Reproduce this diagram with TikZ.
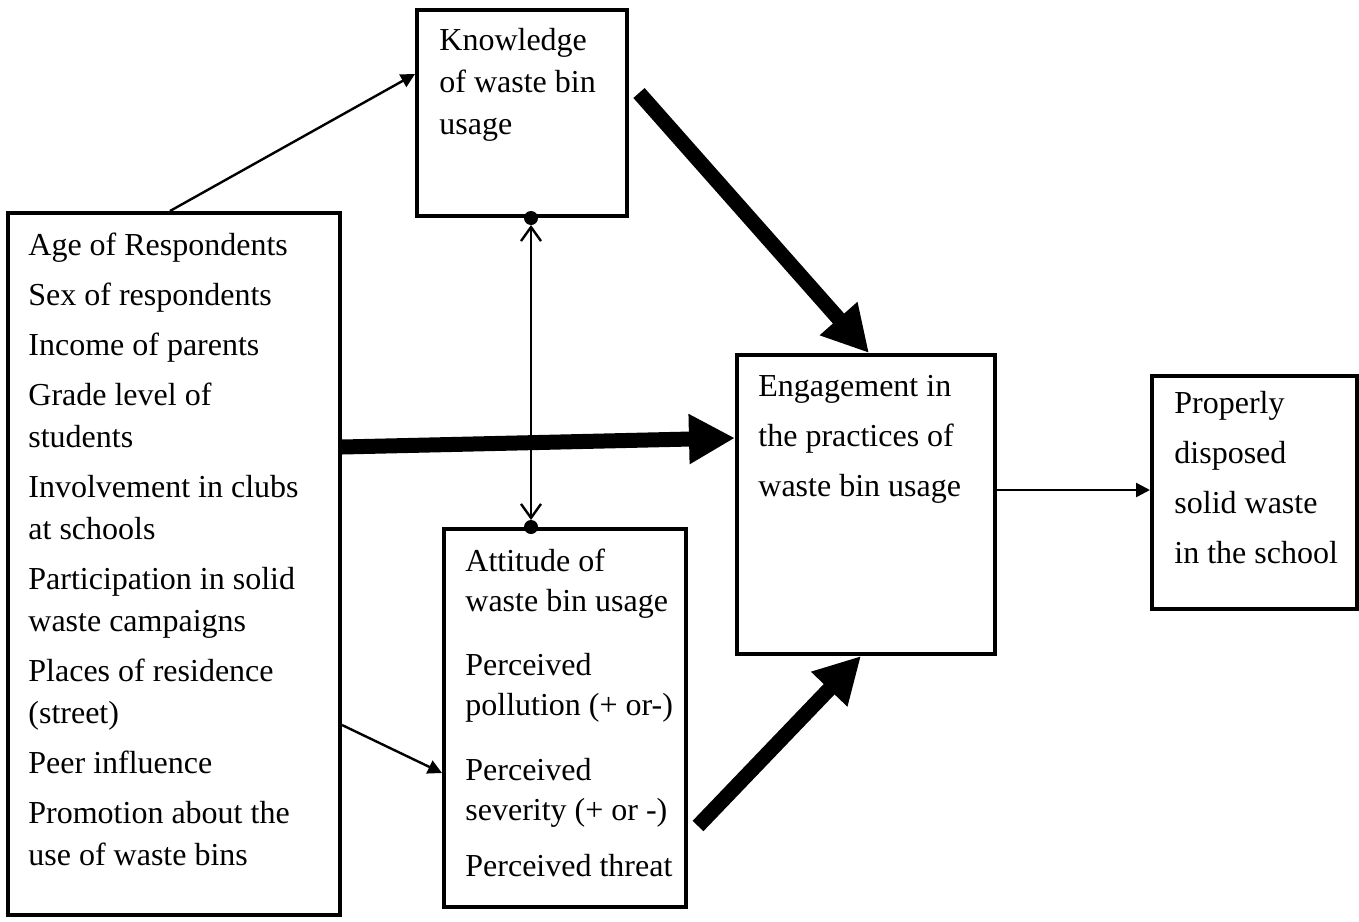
\documentclass[tikz,border=0pt]{standalone}
\usepackage{fontspec}
\setmainfont{Liberation Serif}
\usetikzlibrary{arrows.meta}

\begin{document}
\begin{tikzpicture}[x=0.5pt,y=-0.5pt,
    box/.style={draw,line width=2pt,inner sep=0pt},
    txt/.style={anchor=base west,inner sep=0pt,align=left},
    slim/.style={line width=1.2pt,-{Triangle[length=7pt,width=7pt]}},
    heavy/.style={line width=7.5pt,-{Triangle[length=23pt,width=23.5pt]}},
    twoway/.style={line width=1.2pt,
      {Straight Barb[length=7pt,width=10pt]}-{Straight Barb[length=7pt,width=10pt]},
      shorten <=3.5pt,shorten >=3.5pt}]
  \useasboundingbox (0,0) rectangle (1359,921);

  % boxes
  \node[box,minimum width=166pt,minimum height=351pt]   (lft)  at (174,564)    {};
  \node[box,minimum width=105pt,minimum height=103pt]   (know) at (522,113)    {};
  \node[box,minimum width=121pt,minimum height=189pt]   (att)  at (565,718)    {};
  \node[box,minimum width=129pt,minimum height=149.5pt] (eng)  at (866,504.5)  {};
  \node[box,minimum width=102.5pt,minimum height=116.5pt] (prop) at (1254.5,492.5) {};

  % box texts (anchored at the baseline of their last line)
  \node[txt,font=\fontsize{16}{21}\selectfont] (lfttxt) at ([shift={(11pt,-327pt)}]lft.north west)
    {Age of Respondents\\[4pt] Sex of respondents\\[4pt] Income of parents\\[4pt]
     Grade level of\\ students\\[4pt] Involvement in clubs\\ at schools\\[4pt]
     Participation in solid\\ waste campaigns\\[4pt] Places of residence\\ (street)\\[4pt]
     Peer influence\\[4pt] Promotion about the\\ use of waste bins};
  \node[txt,font=\fontsize{16}{21}\selectfont] (knowtxt) at ([shift={(12pt,-63pt)}]know.north west)
    {Knowledge\\ of waste bin\\ usage};
  \node[txt,font=\fontsize{16}{20}\selectfont] (atttxt) at ([shift={(11.5pt,-174.5pt)}]att.north west)
    {Attitude of\\ waste bin usage\\[12pt] Perceived\\ pollution (+ or-)\\[12.5pt]
     Perceived\\ severity (+ or -)\\[8pt] Perceived threat};
  \node[txt,font=\fontsize{16}{25}\selectfont] (engtxt) at ([shift={(11.5pt,-71.5pt)}]eng.north west)
    {Engagement in\\ the practices of\\ waste bin usage};
  \node[txt,font=\fontsize{16}{25}\selectfont] (proptxt) at ([shift={(12pt,-94.5pt)}]prop.north west)
    {Properly\\ disposed\\ solid waste\\ in the school};

  % connectors
  \draw[slim]  ([xshift=82pt]lft.north west) -- ([yshift=-33pt]know.north west);
  \draw[heavy] ([shift={(5pt,-42.5pt)}]know.north east) -- ([xshift=67pt]eng.north west);
  \draw[heavy] ([yshift=-118pt]lft.north east) -- ([yshift=-42.5pt]eng.north west);
  \draw[heavy] ([shift={(5pt,41.5pt)}]att.south east) -- ([xshift=63pt]eng.south west);
  \draw[slim]  ([yshift=-257pt]lft.north east) -- ([yshift=-123pt]att.north west);
  \draw[slim]  ([yshift=-68.5pt]eng.north east) -- ([yshift=-58pt]prop.north west);

  % knowledge <-> attitude
  \coordinate (ktop) at ([xshift=4.5pt]know.south);
  \coordinate (abot) at ([xshift=-17pt]att.north);
  \draw[twoway] (ktop) -- (abot);
  \fill (ktop) circle (3.5pt);
  \fill (abot) circle (3.5pt);
\end{tikzpicture}
\end{document}
